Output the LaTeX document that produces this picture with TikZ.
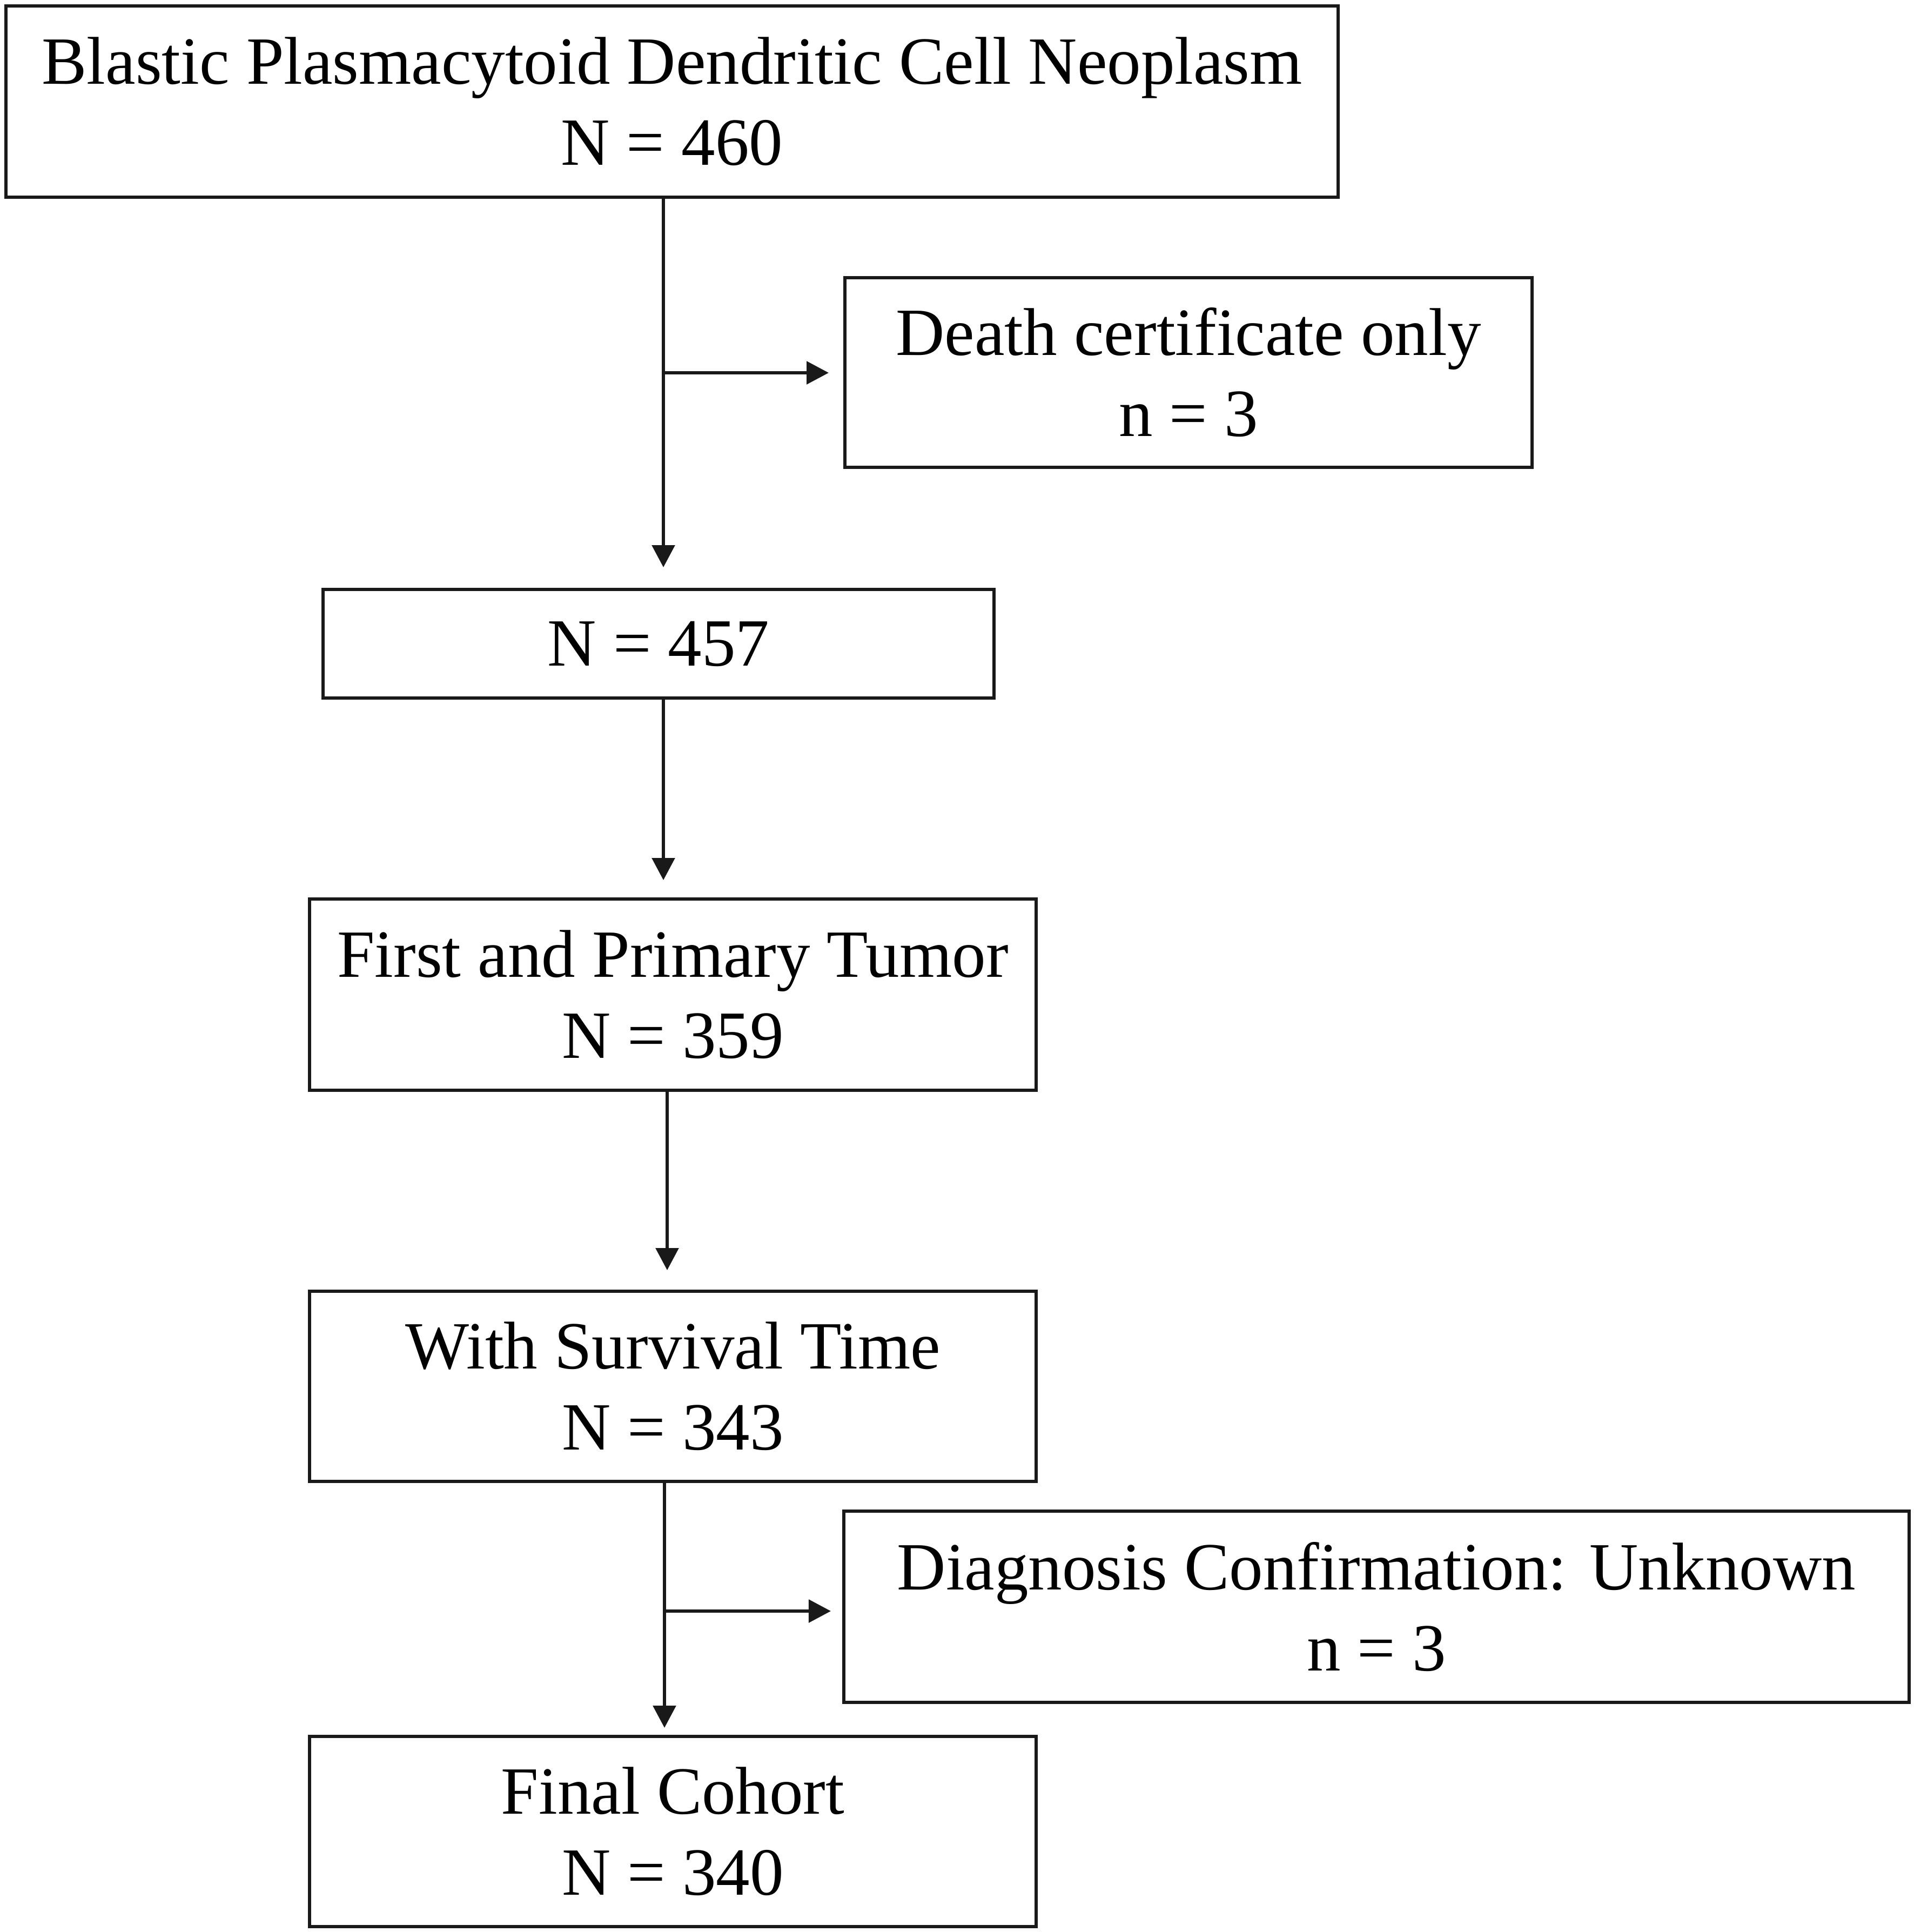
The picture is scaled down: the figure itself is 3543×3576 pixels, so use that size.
\documentclass[tikz,border=0pt]{standalone}
\usepackage{fontspec}
\setmainfont{Liberation Serif}
\usetikzlibrary{arrows.meta}
\begin{document}
\begin{tikzpicture}[x=0.2pt,y=-0.2pt,
  box/.style={draw=black!90, line width=1.2pt, inner sep=0pt, align=center,
    font=\fontsize{25}{30}\selectfont},
  arr/.style={draw=black!90, line width=1.15pt, -{Triangle[length=8.2pt,width=8.4pt]}}]
\useasboundingbox (0,0) rectangle (3543,3576);
\node[box, minimum width=493.2pt, minimum height=70.8pt] (top) at (1244,188)
  {Blastic Plasmacytoid Dendritic Cell Neoplasm\\N = 460};
\node[box, minimum width=254.4pt, minimum height=70.2pt] (death) at (2200,689.5)
  {Death certificate only\\n = 3};
\node[box, minimum width=248.4pt, minimum height=40.2pt] (n457) at (1219,1191.5)
  {N = 457};
\node[box, minimum width=269pt, minimum height=70.8pt] (first) at (1245.5,1841)
  {First and Primary Tumor\\N = 359};
\node[box, minimum width=269pt, minimum height=70.4pt] (surv) at (1245.5,2566)
  {With Survival Time\\N = 343};
\node[box, minimum width=394.4pt, minimum height=70.8pt] (diag) at (2548,2974)
  {Diagnosis Confirmation: Unknown\\n = 3};
\node[box, minimum width=269pt, minimum height=70.4pt] (final) at (1245.5,3390)
  {Final Cohort\\N = 340};
\coordinate (x1) at (1228,0);
\coordinate (x3) at (1235,0);
\coordinate (x4) at (1230,0);
\coordinate (b1) at (1228,690);
\coordinate (b2) at (1230,2982);
\draw[arr, shorten >=7.6pt] (top.south -| x1) -- (n457.north -| x1);
\draw[arr, shorten >=5.4pt] (b1) -- (b1 -| death.west);
\draw[arr, shorten >=6.4pt] (n457.south -| x1) -- (first.north -| x1);
\draw[arr, shorten >=7.2pt] (first.south -| x3) -- (surv.north -| x3);
\draw[arr, shorten >=2.6pt] (surv.south -| x4) -- (final.north -| x4);
\draw[arr, shorten >=4.2pt] (b2) -- (b2 -| diag.west);
\end{tikzpicture}
\end{document}
